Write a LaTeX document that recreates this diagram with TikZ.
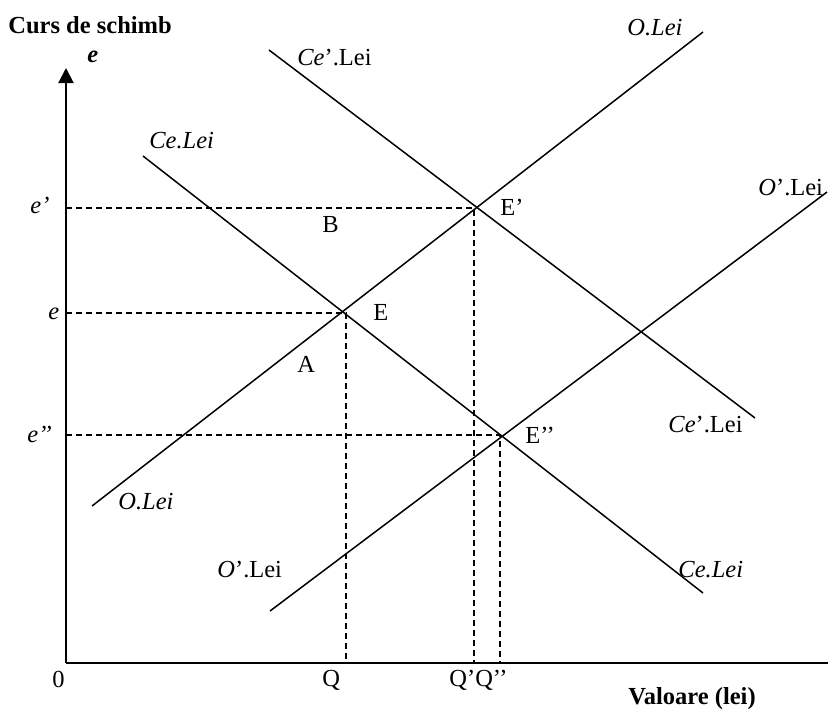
\documentclass[tikz,border=0pt]{standalone}
\usepackage{fontspec}
\setmainfont{Liberation Serif}
\usetikzlibrary{arrows.meta}

\begin{document}
\begin{tikzpicture}[x=0.5pt, y=-0.5pt,
    axis/.style={line width=1pt},
    curve/.style={line width=0.75pt},
    guide/.style={line width=0.7pt, dash pattern=on 3pt off 2pt},
    lbl/.style={anchor=base west, inner sep=0pt, font=\fontsize{12.25}{14}\selectfont},
]
    \useasboundingbox (0,0) rectangle (828,709);

    % === axes ===
    \coordinate (origin) at (66,663);
    \coordinate (ytop) at (66,68);
    \coordinate (xend) at (828,663);
    \draw[axis, -{Triangle[length=7.5pt, width=7.5pt]}] (origin) -- (ytop);
    \draw[axis] (origin) -- (xend);
    \node[lbl, font=\fontsize{12.25}{14}\selectfont\bfseries] (ytitle) at (8,33) {Curs de schimb};
    \node[lbl, font=\fontsize{12.25}{14}\selectfont\bfseries\itshape] (yname) at (87,62) {e};
    \node[lbl, font=\fontsize{12.25}{14}\selectfont\bfseries] (xtitle) at (628,704) {Valoare (lei)};
    \node[lbl] (zero) at (52,687) {0};

    % === equilibria ===
    \coordinate (E) at (346,313);
    \coordinate (E1) at (474,208);
    \coordinate (E2) at (500,435);

    % === supply / demand curves ===
    \coordinate (ob) at (92,506);   \coordinate (ot) at (703,32);
    \coordinate (o1b) at (270,611); \coordinate (o1t) at (827,192);
    \coordinate (ct) at (143,156);  \coordinate (cb) at (703,593);
    \coordinate (c1t) at (269,50);  \coordinate (c1b) at (755,418);
    \draw[curve] (ob) -- (ot);
    \draw[curve] (o1b) -- (o1t);
    \draw[curve] (ct) -- (cb);
    \draw[curve] (c1t) -- (c1b);

    % === dashed guides ===
    \draw[guide] (origin |- E1) -- (E1) -- (E1 |- origin);
    \draw[guide] (origin |- E) -- (E) -- (E |- origin);
    \draw[guide] (origin |- E2) -- (E2) -- (E2 |- origin);

    % === curve labels ===
    \node[lbl] (lo) at (118,509) {\itshape O.Lei};
    \node[lbl] (lot) at (627,35) {\itshape O.Lei};
    \node[lbl] (lo1) at (217,577) {\textit{O}’.Lei};
    \node[lbl] (lo1t) at (758,195) {\textit{O}’.Lei};
    \node[lbl] (lc) at (149,148) {\itshape Ce.Lei};
    \node[lbl] (lcb) at (678,577) {\itshape Ce.Lei};
    \node[lbl] (lc1) at (297,65) {\textit{Ce}’.Lei};
    \node[lbl] (lc1b) at (668,432) {\textit{Ce}’.Lei};

    % === axis values ===
    \node[lbl] (ve1) at (30,213) {\itshape e’};
    \node[lbl] (ve) at (48,319) {\itshape e};
    \node[lbl] (ve2) at (27,442) {\itshape e’’};
    \node[lbl] (vq) at (322,686) {Q};
    \node[lbl] (vq12) at (449,686) {Q’Q’’};

    % === point labels ===
    \node[lbl] (lE) at (373,320) {E};
    \node[lbl] (lE1) at (500,215) {E’};
    \node[lbl] (lE2) at (525,443) {E’’};
    \node[lbl] (lA) at (297,372) {A};
    \node[lbl] (lB) at (322,232) {B};
\end{tikzpicture}
\end{document}
